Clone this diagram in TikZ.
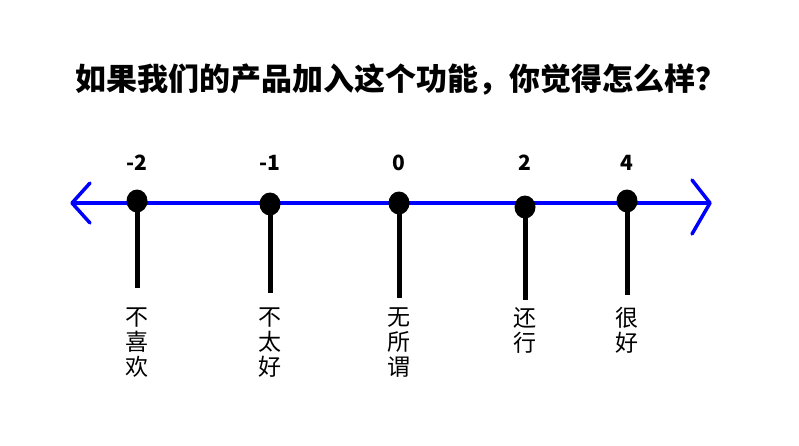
\documentclass[tikz,border=0pt]{standalone}
\usepackage{fontspec}
\usetikzlibrary{shapes.geometric}
\newfontfamily\cjk{Noto Sans CJK SC}
\tikzset{tick/.style={line width=5pt,black},dot/.style={ellipse,fill=black,minimum width=21pt,minimum height=23pt,inner sep=0},
num/.style={font=\cjk\bfseries\fontsize{21}{24}\selectfont},
lab/.style={font=\cjk\fontsize{23}{25}\selectfont,align=center,anchor=north}}
\begin{document}
\begin{tikzpicture}[x=1pt,y=-1pt]
\useasboundingbox[fill=white] (0,0) rectangle (799,445);
\node[font=\cjk\bfseries\fontsize{31}{36}\selectfont] (t) at (401,80) {如果我们的产品加入这个功能，你觉得怎么样？};
\coordinate (L) at (72,203); \coordinate (R) at (710,203);
\draw[blue,line width=4pt] (L) -- (R);
\draw[blue,line width=3.5pt,line join=round,line cap=round] (90,183) -- (L) -- (90,223);
\draw[blue,line width=3.5pt,line join=round,line cap=round] (692,180) -- (R) -- (692,234);
\foreach \n/\x/\y/\e/\v/\l in {a/137/201/288/-2/不\\喜\\欢, b/270/204/293/-1/不\\太\\好, c/399/203/298/0/无\\所\\谓, d/525/207/300/2/还\\行, e/627/201/295/4/很\\好}{
\coordinate (\n e) at (\x,\e);
\draw[tick] (\x,\y) -- (\n e);
\node[dot] (\n) at (\x,\y) {};
\node[num] (\n n) at (\x,163) {\v};
\node[lab] (\n l) at (\x,304) {\l};
}
\end{tikzpicture}
\end{document}
